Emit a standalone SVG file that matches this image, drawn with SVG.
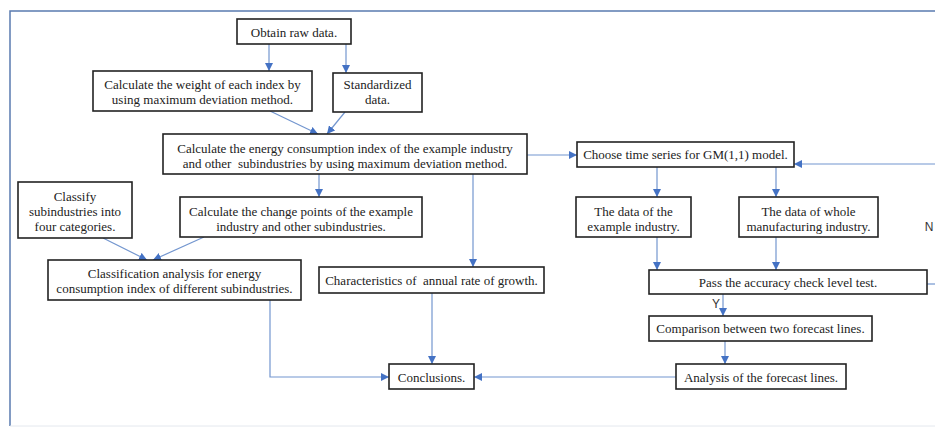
<svg xmlns="http://www.w3.org/2000/svg" width="935" height="428" viewBox="0 0 935 428">
<defs>
<marker id="ah" viewBox="0 0 10 10" refX="10" refY="5" markerWidth="8" markerHeight="8" markerUnits="userSpaceOnUse" orient="auto">
<path d="M0,0 L10,5 L0,10 z" fill="#4472c4"/>
</marker>
<style>
.box{fill:#fff;stroke:#222;stroke-width:1.6}
.t{font-family:"Liberation Serif","Times New Roman",serif;font-size:13px;fill:#222;text-anchor:middle}
.s{font-family:"Liberation Sans",Arial,sans-serif;font-size:12px;fill:#333;text-anchor:middle}
.c{fill:none;stroke:#7396cf;stroke-width:1.2;marker-end:url(#ah)}
.cn{fill:none;stroke:#7396cf;stroke-width:1.2}
</style>
</defs>
<rect width="935" height="428" fill="#fff"/>
<path d="M10,426 V11 H935" fill="none" stroke="#5a7bb0" stroke-width="1.5"/>
<path d="M10,426 H935" fill="none" stroke="#e4e8ee" stroke-width="1"/>

<g id="connectors">
<path class="c" d="M269,44 V71"/>
<path class="c" d="M346,44 V73"/>
<path class="c" d="M270,111 L318,134"/>
<path class="c" d="M345,112 L327,134"/>
<path class="c" d="M319,174 V197"/>
<path class="c" d="M103,238 L147,260"/>
<path class="c" d="M204,237 L153,260"/>
<path class="c" d="M473,174 V267"/>
<path class="c" d="M432,293 V364"/>
<path class="c" d="M270,300 V377 H389"/>
<path class="c" d="M527,155 H577"/>
<path class="c" d="M935,164 H794"/>
<path class="c" d="M657,167 V197"/>
<path class="c" d="M776,167 V197"/>
<path class="c" d="M657,237 V270"/>
<path class="c" d="M776,237 V270"/>
<path class="cn" d="M927,284 H935"/>
<path class="c" d="M723,294 V316"/>
<path class="c" d="M725,341 V364"/>
<path class="c" d="M676,377 H474"/>
<text class="s" x="716" y="308">Y</text>
<text class="s" x="929" y="231">N</text>
</g>

<g id="n1"><rect class="box" x="237" y="19" width="114" height="25"/><text class="t" x="294" y="36.5">Obtain raw data.</text></g>
<g id="n2"><rect class="box" x="93" y="71" width="219" height="40"/><text class="t" x="202.5" y="88.5">Calculate the weight of each index by</text><text class="t" x="202.5" y="103.5">using maximum deviation method.</text></g>
<g id="n3"><rect class="box" x="333" y="73" width="89" height="39"/><text class="t" x="377.5" y="88.5">Standardized</text><text class="t" x="377.5" y="103.5">data.</text></g>
<g id="n4"><rect class="box" x="163" y="134" width="364" height="40"/><text class="t" x="345" y="152.5">Calculate the energy consumption index of the example industry</text><text class="t" x="345" y="167.5" xml:space="preserve">and other  subindustries by using maximum deviation method.</text></g>
<g id="n5"><rect class="box" x="18" y="182" width="114" height="56"/><text class="t" x="75" y="200.5">Classify</text><text class="t" x="75" y="215.5">subindustries into</text><text class="t" x="75" y="230.5">four categories.</text></g>
<g id="n6"><rect class="box" x="180" y="197" width="242" height="40"/><text class="t" x="301" y="215.5">Calculate the change points of the example</text><text class="t" x="301" y="230.5">industry and other subindustries.</text></g>
<g id="n7"><rect class="box" x="48" y="260" width="253" height="40"/><text class="t" x="174.5" y="277.5">Classification analysis for energy</text><text class="t" x="174.5" y="292.5">consumption index of different subindustries.</text></g>
<g id="n8"><rect class="box" x="319" y="267" width="225" height="26"/><text class="t" x="431.5" y="285" xml:space="preserve">Characteristics of  annual rate of growth.</text></g>
<g id="n9"><rect class="box" x="389" y="364" width="85" height="25"/><text class="t" x="431.5" y="381.5">Conclusions.</text></g>
<g id="n10"><rect class="box" x="577" y="142" width="217" height="25"/><text class="t" x="685.5" y="159">Choose time series for GM(1,1) model.</text></g>
<g id="n11"><rect class="box" x="576" y="197" width="115" height="40"/><text class="t" x="633.5" y="215.5">The data of the</text><text class="t" x="633.5" y="230.5">example industry.</text></g>
<g id="n12"><rect class="box" x="739" y="197" width="139" height="40"/><text class="t" x="808.5" y="215.5">The data of whole</text><text class="t" x="808.5" y="230.5">manufacturing industry.</text></g>
<g id="n13"><rect class="box" x="649" y="270" width="278" height="24"/><text class="t" x="788" y="287">Pass the accuracy check level test.</text></g>
<g id="n14"><rect class="box" x="649" y="316" width="223" height="25"/><text class="t" x="760.5" y="333">Comparison between two forecast lines.</text></g>
<g id="n15"><rect class="box" x="676" y="364" width="170" height="25"/><text class="t" x="761" y="381.5">Analysis of the forecast lines.</text></g>
</svg>
